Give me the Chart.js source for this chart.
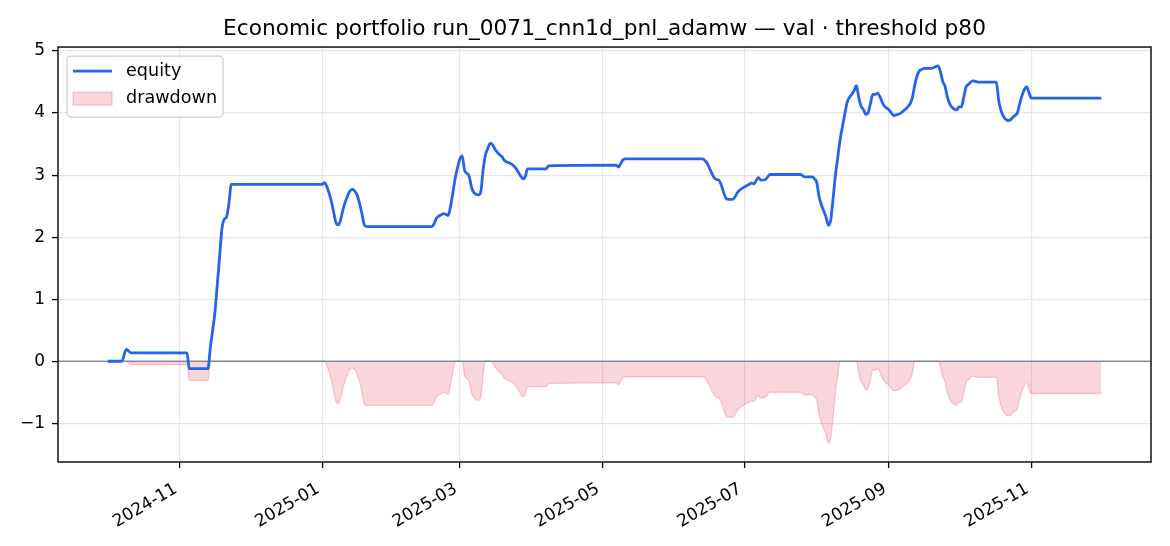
<!DOCTYPE html>
<html>
<head>
<meta charset="utf-8">
<script src="https://cdn.jsdelivr.net/npm/chart.js@4.4.1/dist/chart.umd.min.js"></script>
<style>
  html, body { margin: 0; padding: 0; background: #fff; }
  canvas { display: block; }
</style>
</head>
<body>
<canvas id="chart" width="1170" height="546"></canvas>
<script>
// values
const dates = [
  '2024-10-01', '2024-10-07', '2024-10-09', '2024-10-11', '2024-11-04', '2024-11-05', '2024-11-13',
  '2024-11-14', '2024-11-15', '2024-11-16', '2024-11-17', '2024-11-18', '2024-11-19', '2024-11-20',
  '2024-11-21', '2024-11-22', '2024-11-23',
  '2025-01-01', '2025-01-02', '2025-01-03', '2025-01-04', '2025-01-05', '2025-01-06', '2025-01-07',
  '2025-01-08', '2025-01-09', '2025-01-10', '2025-01-11', '2025-01-12', '2025-01-13', '2025-01-14',
  '2025-01-15', '2025-01-16', '2025-01-17', '2025-01-18', '2025-01-19', '2025-01-20',
  '2025-02-17', '2025-02-18', '2025-02-19', '2025-02-20', '2025-02-21', '2025-02-22', '2025-02-23',
  '2025-02-24', '2025-02-25', '2025-02-26', '2025-02-27', '2025-02-28',
  '2025-03-01', '2025-03-02', '2025-03-03', '2025-03-04', '2025-03-05', '2025-03-06', '2025-03-07',
  '2025-03-08', '2025-03-09', '2025-03-10', '2025-03-11', '2025-03-12', '2025-03-13', '2025-03-14',
  '2025-03-15', '2025-03-16', '2025-03-17', '2025-03-18', '2025-03-19', '2025-03-20', '2025-03-21',
  '2025-03-22', '2025-03-23', '2025-03-24', '2025-03-25', '2025-03-26', '2025-03-27', '2025-03-28',
  '2025-03-29', '2025-03-30',
  '2025-04-07', '2025-04-08', '2025-05-07', '2025-05-08', '2025-05-09', '2025-05-10', '2025-05-11',
  '2025-06-13', '2025-06-14', '2025-06-15', '2025-06-16', '2025-06-17', '2025-06-18', '2025-06-19',
  '2025-06-20', '2025-06-21', '2025-06-22', '2025-06-23', '2025-06-24', '2025-06-26', '2025-06-27',
  '2025-06-28', '2025-06-29',
  '2025-07-01', '2025-07-03', '2025-07-04', '2025-07-05', '2025-07-07', '2025-07-08', '2025-07-10',
  '2025-07-12', '2025-07-25', '2025-07-27', '2025-07-30', '2025-07-31',
  '2025-08-01', '2025-08-02', '2025-08-03', '2025-08-04', '2025-08-05', '2025-08-06', '2025-08-07',
  '2025-08-08', '2025-08-09', '2025-08-10', '2025-08-11', '2025-08-12', '2025-08-13', '2025-08-14',
  '2025-08-15', '2025-08-16', '2025-08-17', '2025-08-18', '2025-08-19', '2025-08-20', '2025-08-21',
  '2025-08-22', '2025-08-23', '2025-08-24', '2025-08-25', '2025-08-26', '2025-08-27', '2025-08-28',
  '2025-08-29', '2025-08-30', '2025-08-31',
  '2025-09-01', '2025-09-02', '2025-09-03', '2025-09-04', '2025-09-05', '2025-09-06', '2025-09-07',
  '2025-09-08', '2025-09-09', '2025-09-10', '2025-09-11', '2025-09-12', '2025-09-13', '2025-09-14',
  '2025-09-15', '2025-09-16', '2025-09-19', '2025-09-20', '2025-09-21', '2025-09-22', '2025-09-23',
  '2025-09-24', '2025-09-25', '2025-09-26', '2025-09-27', '2025-09-28', '2025-09-29', '2025-09-30',
  '2025-10-01', '2025-10-02', '2025-10-03', '2025-10-04', '2025-10-05', '2025-10-06', '2025-10-07',
  '2025-10-08', '2025-10-09', '2025-10-17', '2025-10-18', '2025-10-19', '2025-10-20', '2025-10-21',
  '2025-10-22', '2025-10-23', '2025-10-24', '2025-10-25', '2025-10-26', '2025-10-27', '2025-10-28',
  '2025-10-29', '2025-10-30', '2025-10-31',
  '2025-11-01', '2025-12-01'
];

const equity = [
  0, 0, 0.19, 0.135, 0.135, -0.12, -0.12,
  0.22, 0.50, 0.79, 1.24, 1.69, 2.14, 2.29,
  2.33, 2.55, 2.85,
  2.85, 2.88, 2.81, 2.70, 2.56, 2.38, 2.22,
  2.20, 2.30, 2.46, 2.58, 2.68, 2.75, 2.77,
  2.74, 2.67, 2.54, 2.38, 2.20, 2.17,
  2.17, 2.22, 2.31, 2.34, 2.36, 2.38, 2.37,
  2.35, 2.50, 2.72, 2.95, 3.12,
  3.26, 3.31, 3.08, 3.03, 2.98, 2.80, 2.72,
  2.69, 2.68, 2.74, 3.10, 3.33, 3.43, 3.51,
  3.49, 3.42, 3.37, 3.33, 3.30, 3.24, 3.21,
  3.20, 3.18, 3.15, 3.11, 3.05, 2.99, 2.94,
  2.97, 3.10,
  3.10, 3.15, 3.16, 3.13, 3.19, 3.25, 3.26,
  3.26, 3.24, 3.19, 3.11, 3.03, 2.96, 2.93,
  2.92, 2.85, 2.73, 2.63, 2.61, 2.61, 2.65,
  2.72, 2.76,
  2.81, 2.85, 2.87, 2.86, 2.96, 2.92, 2.93,
  3.01, 3.01, 2.97, 2.97, 2.94,
  2.88, 2.65, 2.52, 2.42, 2.32, 2.19, 2.28,
  2.62, 3.00, 3.28, 3.57, 3.78, 3.98, 4.17,
  4.25, 4.30, 4.36, 4.44, 4.25, 4.11, 4.06,
  3.98, 4.00, 4.15, 4.30, 4.30, 4.32, 4.27,
  4.18, 4.11, 4.08,
  4.05, 4.00, 3.96, 3.97, 3.98, 4.00, 4.03,
  4.06, 4.10, 4.15, 4.25, 4.45, 4.60, 4.68,
  4.70, 4.72, 4.72, 4.73, 4.75, 4.76, 4.67,
  4.51, 4.43, 4.26, 4.15, 4.09, 4.06, 4.05,
  4.10, 4.10, 4.25, 4.42, 4.46, 4.50, 4.52,
  4.51, 4.50, 4.50, 4.20, 4.04, 3.95, 3.90,
  3.88, 3.89, 3.93, 3.96, 4.00, 4.15, 4.28,
  4.38, 4.42, 4.33,
  4.24, 4.24
];

const drawdown = [
  0, 0, 0, -0.055, -0.055, -0.31, -0.31,
  0, 0, 0, 0, 0, 0, 0,
  0, 0, 0,
  0, 0, -0.07, -0.18, -0.32, -0.50, -0.66,
  -0.68, -0.58, -0.42, -0.30, -0.20, -0.13, -0.11,
  -0.14, -0.21, -0.34, -0.50, -0.68, -0.71,
  -0.71, -0.66, -0.57, -0.54, -0.52, -0.50, -0.51,
  -0.53, -0.38, -0.16, 0, 0,
  0, 0, -0.23, -0.28, -0.33, -0.51, -0.59,
  -0.62, -0.63, -0.57, -0.21, 0, 0, 0,
  -0.02, -0.09, -0.14, -0.18, -0.21, -0.27, -0.30,
  -0.31, -0.33, -0.36, -0.40, -0.46, -0.52, -0.57,
  -0.54, -0.41,
  -0.41, -0.36, -0.35, -0.38, -0.32, -0.26, -0.25,
  -0.25, -0.27, -0.32, -0.40, -0.48, -0.55, -0.58,
  -0.59, -0.66, -0.78, -0.88, -0.90, -0.90, -0.86,
  -0.79, -0.75,
  -0.70, -0.66, -0.64, -0.65, -0.55, -0.59, -0.58,
  -0.50, -0.50, -0.54, -0.54, -0.57,
  -0.63, -0.86, -0.99, -1.09, -1.19, -1.32, -1.23,
  -0.89, -0.51, -0.23, 0, 0, 0, 0,
  0, 0, 0, 0, -0.19, -0.33, -0.38,
  -0.46, -0.44, -0.29, -0.14, -0.14, -0.12, -0.17,
  -0.26, -0.33, -0.36,
  -0.39, -0.44, -0.48, -0.47, -0.46, -0.44, -0.41,
  -0.38, -0.34, -0.29, -0.19, 0, 0, 0,
  0, 0, 0, 0, 0, 0, -0.09,
  -0.25, -0.33, -0.50, -0.61, -0.67, -0.70, -0.71,
  -0.66, -0.66, -0.51, -0.34, -0.30, -0.26, -0.24,
  -0.25, -0.26, -0.26, -0.56, -0.72, -0.81, -0.86,
  -0.88, -0.87, -0.83, -0.80, -0.76, -0.61, -0.48,
  -0.38, -0.34, -0.43,
  -0.52, -0.52
];

const xTickLabels = ['2024-11', '2025-01', '2025-03', '2025-05', '2025-07', '2025-09', '2025-11'];
const yTicks = [-1, 0, 1, 2, 3, 4, 5];

const titleText = 'Economic portfolio run_0071_cnn1d_pnl_adamw \u2014 val \u00b7 threshold p80';
const FONT = 'DejaVu Sans';
const BLUE = '#2563eb';
const PINK_FILL = 'rgba(220, 20, 60, 0.18)';
const PINK_EDGE = 'rgba(220, 20, 60, 0.20)';
const GRID = '#e6e6e6';

const toMs = s => Date.parse(s + 'T00:00:00Z');
const xTicks = xTickLabels.map(m => toMs(m + '-01'));

const xs = dates.map(toMs);
const xSpan = xs[xs.length - 1] - xs[0];
const xMin = xs[0] - 0.05 * xSpan;
const xMax = xs[xs.length - 1] + 0.05 * xSpan;

const lo = Math.min(...drawdown, ...equity);
const hi = Math.max(...drawdown, ...equity);
const yMin = lo - 0.05 * (hi - lo);
const yMax = hi + 0.05 * (hi - lo);

const fmtMonth = v => {
  const d = new Date(v);
  return d.getUTCFullYear() + '-' + String(d.getUTCMonth() + 1).padStart(2, '0');
};

// zero line, axes box and the legend (matplotlib style)
const frame = {
  id: 'frame',
  beforeDatasetDraw(chart, args) {
    if (args.index !== 0) return;
    const { ctx, chartArea: a } = chart;
    const y0 = chart.scales.y.getPixelForValue(0);
    ctx.save();
    ctx.strokeStyle = 'rgba(100, 116, 139, 0.75)';
    ctx.lineWidth = 1.3;
    ctx.beginPath();
    ctx.moveTo(a.left, y0);
    ctx.lineTo(a.right, y0);
    ctx.stroke();
    ctx.restore();
  },
  afterDraw(chart) {
    const { ctx, chartArea: a } = chart;
    ctx.save();
    ctx.strokeStyle = '#000';
    ctx.lineWidth = 1.4;
    ctx.strokeRect(a.left, a.top, a.right - a.left, a.bottom - a.top);

    const lx = a.left + 9, ly = a.top + 9, lw = 156, lh = 61;
    ctx.beginPath();
    if (ctx.roundRect) ctx.roundRect(lx, ly, lw, lh, 4); else ctx.rect(lx, ly, lw, lh);
    ctx.fillStyle = 'rgba(255, 255, 255, 0.8)';
    ctx.fill();
    ctx.strokeStyle = '#cccccc';
    ctx.lineWidth = 1.2;
    ctx.stroke();

    ctx.strokeStyle = BLUE;
    ctx.lineWidth = 2.8;
    ctx.beginPath();
    ctx.moveTo(lx + 6, ly + 15);
    ctx.lineTo(lx + 45, ly + 15);
    ctx.stroke();

    ctx.fillStyle = PINK_FILL;
    ctx.fillRect(lx + 6, ly + 36, 39, 13);
    ctx.strokeStyle = PINK_EDGE;
    ctx.lineWidth = 1.3;
    ctx.strokeRect(lx + 6, ly + 36, 39, 13);

    ctx.fillStyle = '#000';
    ctx.font = '17.6px "' + FONT + '"';
    ctx.textBaseline = 'middle';
    ctx.fillText('equity', lx + 59, ly + 15);
    ctx.fillText('drawdown', lx + 59, ly + 42);
    ctx.restore();
  }
};

new Chart(document.getElementById('chart'), {
  type: 'line',
  data: {
    datasets: [
      {
        label: 'equity',
        data: xs.map((x, i) => ({ x, y: equity[i] })),
        borderColor: BLUE,
        borderWidth: 2.8,
        pointRadius: 0,
        cubicInterpolationMode: 'monotone',
        fill: false
      },
      {
        label: 'drawdown',
        data: xs.map((x, i) => ({ x, y: drawdown[i] })),
        borderColor: PINK_EDGE,
        backgroundColor: PINK_FILL,
        borderWidth: 1.3,
        pointRadius: 0,
        cubicInterpolationMode: 'monotone',
        fill: 'origin'
      }
    ]
  },
  options: {
    responsive: false,
    animation: false,
    layout: { padding: { left: 0, right: 19, top: 0, bottom: 0 } },
    plugins: {
      legend: { display: false },
      tooltip: { enabled: false },
      title: {
        display: true,
        text: titleText,
        fullSize: false,
        color: '#000',
        font: { family: FONT, size: 21.7, weight: 'normal' },
        padding: { top: 16, bottom: 5 }
      }
    },
    scales: {
      x: {
        type: 'linear',
        min: xMin,
        max: xMax,
        afterBuildTicks: s => { s.ticks = xTicks.map(v => ({ value: v })); },
        afterFit: s => { s.height = 84; },
        ticks: {
          autoSkip: false,
          minRotation: 30,
          maxRotation: 30,
          padding: 11,
          labelOffset: -4,
          color: '#000',
          font: { family: FONT, size: 17 },
          callback: v => fmtMonth(v)
        },
        grid: { color: GRID, lineWidth: 1.2, tickColor: '#000', tickLength: 6, tickWidth: 1.3 },
        border: { display: false }
      },
      y: {
        min: yMin,
        max: yMax,
        afterBuildTicks: s => { s.ticks = yTicks.map(v => ({ value: v })); },
        afterFit: s => { s.width = 58; },
        ticks: {
          padding: 7,
          color: '#000',
          font: { family: FONT, size: 17 },
          callback: v => (v < 0 ? '\u2212' + Math.abs(v) : String(v))
        },
        grid: { color: GRID, lineWidth: 1.2, tickColor: '#000', tickLength: 6, tickWidth: 1.3 },
        border: { display: false }
      }
    }
  },
  plugins: [frame]
});
</script>
</body>
</html>
